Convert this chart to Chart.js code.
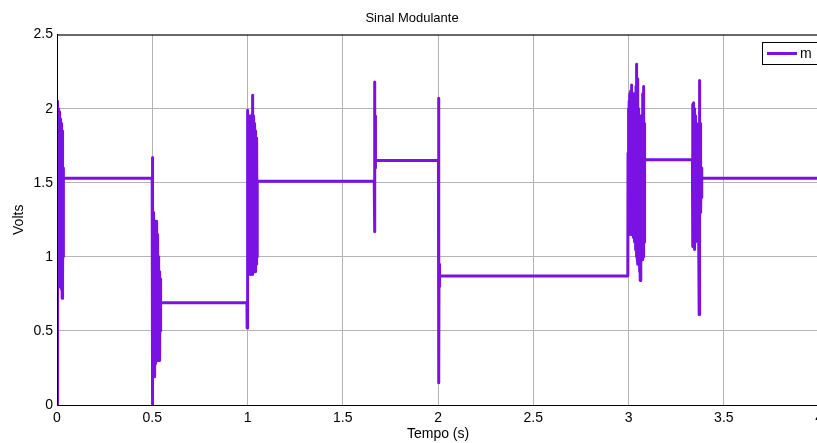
<!DOCTYPE html>
<html>
<head>
<meta charset="utf-8">
<title>Sinal Modulante</title>
<script src="https://cdn.jsdelivr.net/npm/chart.js@4.4.1/dist/chart.umd.min.js"></script>
<style>
  html, body { margin: 0; padding: 0; background: #fff; overflow: hidden; }
  #wrap { width: 828px; height: 443px; position: relative; }
</style>
</head>
<body>
<div id="wrap"><canvas id="grafico"></canvas></div>
<script>
// sinal m(t): tempo em segundos e tensão em volts
const tempo = [
  0, 0.0015, 0.003, 0.0045, 0.006, 0.0075, 0.009, 0.0105, 0.012, 0.0135, 0.015, 0.0165, 0.018, 0.0195, 0.021, 0.0225,
  0.024, 0.0255, 0.027, 0.0285, 0.030, 0.0315, 0.033, 0.034,
  0.4995, 0.5, 0.5005, 0.502, 0.5035, 0.505, 0.5065, 0.508, 0.5095, 0.511, 0.5125, 0.514, 0.5155, 0.517, 0.5185, 0.520, 0.5215, 0.523,
  0.5245, 0.526, 0.5275, 0.529, 0.5305, 0.532, 0.5335, 0.535, 0.5365, 0.538, 0.5395, 0.541, 0.5425, 0.544, 0.545,
  0.997, 0.998, 0.999, 1.0005, 1.002, 1.0035, 1.005, 1.0065, 1.008, 1.0095, 1.011, 1.0125, 1.014, 1.0155, 1.017, 1.0185, 1.020, 1.0215,
  1.023, 1.0245, 1.026, 1.0275, 1.029, 1.0305, 1.032, 1.0335, 1.035, 1.0365, 1.038, 1.0395, 1.041, 1.0425, 1.044, 1.0455, 1.047, 1.0485,
  1.050, 1.051,
  1.665, 1.666, 1.667, 1.668, 1.669, 1.670, 1.671, 1.672,
  2.002, 2.003, 2.004, 2.005, 2.007, 2.009,
  2.996, 2.997, 2.999, 3.001, 3.003, 3.005, 3.007, 3.009, 3.011, 3.013, 3.015, 3.017, 3.019, 3.021, 3.023, 3.025, 3.027, 3.029, 3.031,
  3.033, 3.035, 3.037, 3.039, 3.041, 3.043, 3.045, 3.047, 3.049, 3.051, 3.053, 3.055, 3.057, 3.059, 3.061, 3.063, 3.065, 3.067, 3.069,
  3.071, 3.073, 3.075, 3.077, 3.079, 3.081, 3.083, 3.085,
  3.335, 3.336, 3.3375, 3.339, 3.3405, 3.342, 3.3435, 3.345, 3.3465, 3.348, 3.3495, 3.351, 3.3525, 3.354, 3.3555, 3.357, 3.3585, 3.360,
  3.3615, 3.363, 3.3645, 3.366, 3.3675, 3.369, 3.3705, 3.372, 3.3735, 3.375, 3.3765, 3.378, 3.3795, 3.381, 3.383, 3.385,
  4.0
];
const volts = [
  0, 2.05, 0.8, 2.03, 0.82, 2.0, 0.8, 1.98, 0.85, 1.85, 0.8, 1.93, 0.82, 1.92, 0.8, 1.9,
  0.78, 1.88, 0.72, 1.85, 0.85, 1.6, 1.0, 1.53,
  1.53, 1.67, 0.0, 1.25, 0.2, 1.30, 0.25, 1.28, 0.3, 1.22, 0.19, 1.2, 0.3, 1.24, 0.28, 1.22, 0.3, 1.24,
  0.32, 1.15, 0.3, 1.1, 0.35, 1.0, 0.3, 0.95, 0.35, 0.9, 0.3, 0.85, 0.5, 0.75, 0.69,
  0.69, 0.52, 1.0, 1.99, 0.9, 1.95, 0.88, 1.95, 0.9, 1.92, 0.9, 1.95, 0.88, 1.95, 0.9, 1.95, 0.92, 1.9,
  0.9, 1.95, 0.88, 2.09, 0.9, 1.95, 0.92, 1.9, 0.9, 1.9, 0.95, 1.85, 0.9, 1.85, 0.95, 1.8, 0.95, 1.8,
  1.0, 1.51,
  1.51, 2.18, 1.17, 2.0, 1.55, 1.95, 1.6, 1.65,
  1.65, 2.07, 0.15, 0.95, 0.80, 0.87,
  0.87, 1.7, 2.0, 1.2, 2.05, 1.15, 2.1, 1.2, 2.12, 1.15, 2.16, 1.2, 2.1, 1.15, 2.05, 1.13, 2.1, 1.15, 2.05,
  1.1, 2.1, 1.05, 2.15, 1.0, 2.30, 1.0, 2.2, 0.95, 2.0, 1.0, 1.95, 0.9, 1.9, 0.84, 1.95, 1.0, 1.9, 1.05,
  1.95, 0.98, 2.1, 1.0, 2.15, 1.1, 1.9, 1.655,
  1.655, 1.07, 2.03, 1.1, 2.04, 1.08, 2.0, 1.1, 1.95, 1.05, 1.9, 1.1, 1.95, 1.15, 1.9, 1.2, 1.85, 1.2,
  1.8, 1.25, 1.75, 1.1, 1.8, 1.2, 0.61, 2.19, 1.2, 1.9, 1.3, 1.7, 1.3, 1.6, 1.4, 1.53,
  1.53
];

const xTicks = [0, 0.5, 1, 1.5, 2, 2.5, 3, 3.5, 4];
const xTickLabels = ['0', '0.5', '1', '1.5', '2', '2.5', '3', '3.5', '4'];
const yTicks = [0, 0.5, 1, 1.5, 2, 2.5];
const yTickLabels = ['0', '0.5', '1', '1.5', '2', '2.5'];

const corSinal = 'rgb(122, 18, 228)';
const fonte = 'Liberation Sans, Arial, sans-serif';

const pontos = tempo.map((t, i) => ({ x: t, y: volts[i] }));

// moldura preta do eixo e legenda no canto superior direito
const molduraLegenda = {
  id: 'molduraLegenda',
  afterDraw(chart) {
    const { ctx, chartArea: a } = chart;
    ctx.save();
    ctx.strokeStyle = '#000';
    ctx.lineWidth = 1;
    ctx.strokeRect(a.left + 0.5, a.top + 0.5, a.right - a.left, a.bottom - a.top);

    const bx = 762, by = 42, bw = 56, bh = 22;
    ctx.fillStyle = '#fff';
    ctx.fillRect(bx, by, bw, bh);
    ctx.strokeRect(bx + 0.5, by + 0.5, bw, bh);
    ctx.strokeStyle = corSinal;
    ctx.lineWidth = 3;
    ctx.beginPath();
    ctx.moveTo(767, by + 11.5);
    ctx.lineTo(797, by + 11.5);
    ctx.stroke();
    ctx.fillStyle = '#000';
    ctx.font = '14px ' + fonte;
    ctx.textBaseline = 'middle';
    ctx.fillText(chart.data.datasets[0].label, 800, by + 12);
    ctx.restore();
  }
};

new Chart(document.getElementById('grafico'), {
  type: 'line',
  data: {
    datasets: [{
      label: 'm',
      data: pontos,
      borderColor: corSinal,
      borderWidth: 3,
      borderJoinStyle: 'round',
      borderCapStyle: 'round',
      pointRadius: 0,
      tension: 0,
      fill: false
    }]
  },
  options: {
    responsive: true,
    maintainAspectRatio: false,
    animation: false,
    layout: { padding: { top: 0, right: 4, left: 0, bottom: 0 } },
    plugins: {
      legend: { display: false },
      tooltip: { enabled: false },
      title: {
        display: true,
        text: 'Sinal Modulante',
        color: '#000',
        font: { family: fonte, size: 13, weight: 'normal' },
        padding: { top: 11, bottom: 8 }
      }
    },
    scales: {
      x: {
        type: 'linear',
        min: 0,
        max: 4,
        afterBuildTicks: s => { s.ticks = xTicks.map(v => ({ value: v })); },
        afterFit: s => { s.height = 38; },
        ticks: {
          color: '#000', font: { family: fonte, size: 14 }, padding: 5, maxRotation: 0,
          callback: v => xTickLabels[xTicks.indexOf(v)]
        },
        grid: { color: '#b4b4b4', lineWidth: 1, drawTicks: false },
        border: { color: '#000' },
        title: { display: true, text: 'Tempo (s)', color: '#000', font: { family: fonte, size: 14 }, padding: { top: 0, bottom: 0 } }
      },
      y: {
        min: 0,
        max: 2.5,
        afterBuildTicks: s => { s.ticks = yTicks.map(v => ({ value: v })); },
        afterFit: s => { s.width = 57; },
        ticks: {
          color: '#000', font: { family: fonte, size: 14 }, padding: 4,
          callback: v => yTickLabels[yTicks.indexOf(v)]
        },
        grid: { color: '#b4b4b4', lineWidth: 1, drawTicks: false },
        border: { color: '#000' },
        title: { display: true, text: 'Volts', color: '#000', font: { family: fonte, size: 14 }, padding: { top: 11, bottom: 0 } }
      }
    }
  },
  plugins: [molduraLegenda]
});
</script>
</body>
</html>
